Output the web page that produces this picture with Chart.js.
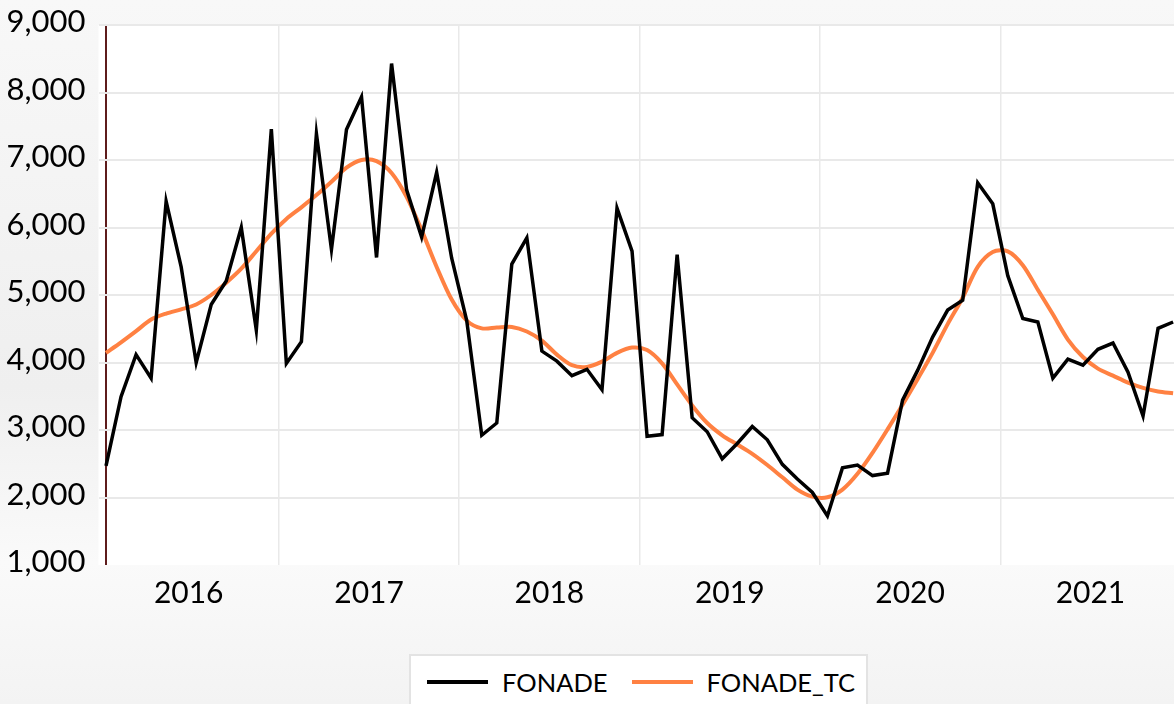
<!DOCTYPE html>
<html>
<head>
<meta charset="utf-8">
<script src="https://cdn.jsdelivr.net/npm/chart.js@4.4.0/dist/chart.umd.min.js"></script>
<style>
  html, body { margin: 0; padding: 0; background: #f5f5f5; }
  #wrap { position: relative; width: 1174px; height: 704px; overflow: hidden; }
  #legend {
    position: absolute; left: 409px; top: 654px; width: 459px; height: 60px;
    background: #fff; border: 2px solid #e3e3e3; box-sizing: border-box;
    display: flex; align-items: flex-start; padding: 0 0 0 16px;
    font-family: Lato, "Open Sans", sans-serif; font-size: 25.5px; color: #000;
  }
  .item { display: flex; align-items: center; height: 52px; margin-right: 24px; }
  .swatch { width: 61px; height: 3.5px; margin-right: 14px; }
</style>
</head>
<body>
<div id="wrap">
  <canvas id="chart" width="1174" height="704"></canvas>
  <div id="legend"></div>
</div>
<script>
// year labels (one per 12 monthly points, Jan 2016 .. Dec 2021)
const years = ['2016', '2017', '2018', '2019', '2020', '2021'];

// FONADE monthly series
const fonade = [
  2470, 3494, 4117, 3769, 6387, 5416, 3997, 4860, 5208, 6000, 4481, 7457,
  3987, 4309, 7390, 5675, 7452, 7935, 5556, 8429, 6558, 5857, 6818, 5545,
  4621, 2922, 3104, 5457, 5847, 4169, 4020, 3805, 3899, 3597, 6288, 5649,
  2906, 2932, 5597, 3182, 2974, 2574, 2800, 3052, 2855, 2491, 2273, 2075,
  1727, 2439, 2480, 2325, 2361, 3442, 3883, 4377, 4777, 4922, 6662, 6351,
  5286, 4652, 4600, 3769, 4049, 3961, 4195, 4288, 3857, 3208, 4506, 4600
];

// FONADE_TC (trend-cycle)
const fonadeTC = [
  4143, 4299, 4465, 4636, 4725, 4787, 4860, 5000, 5182, 5390, 5649, 5909,
  6127, 6299, 6480, 6678, 6886, 7000, 6984, 6808, 6454, 5961, 5416, 4932,
  4621, 4506, 4517, 4527, 4460, 4325, 4117, 3961, 3935, 4013, 4143, 4221,
  4184, 3987, 3675, 3364, 3104, 2922, 2785, 2647, 2481, 2299, 2117, 2013,
  2003, 2117, 2351, 2662, 3010, 3374, 3753, 4143, 4569, 4960, 5416, 5636,
  5647, 5442, 5078, 4714, 4340, 4081, 3909, 3805, 3701, 3623, 3571, 3545
];

const yTicks = [1000, 2000, 3000, 4000, 5000, 6000, 7000, 8000, 9000];

const GRID = '#e9e9e9';
const AXIS_LINE = '#5e1c1c';
const ORANGE = '#ff8142';
const FONT = 'Lato, "Open Sans", sans-serif';

const isCenter = v => Math.abs(((v - 5.5) % 12)) < 1e-6;

const bgPlugin = {
  id: 'bg',
  beforeDraw(chart) {
    const { ctx, chartArea: a } = chart;
    ctx.save();
    const g = ctx.createLinearGradient(0, 0, 0, chart.height);
    g.addColorStop(0, '#f8f8f8');
    g.addColorStop(0.55, '#efefef');
    g.addColorStop(0.8, '#fafafa');
    g.addColorStop(1, '#f3f3f3');
    ctx.fillStyle = g;
    ctx.fillRect(0, 0, chart.width, chart.height);
    ctx.fillStyle = '#ffffff';
    ctx.fillRect(a.left, a.top, a.right - a.left, a.bottom - a.top);
    ctx.restore();
  }
};

const ctx = document.getElementById('chart').getContext('2d');
const chart = new Chart(ctx, {
  type: 'line',
  data: {
    datasets: [
      {
        label: 'FONADE',
        data: fonade.map((v, i) => ({ x: i, y: v })),
        borderColor: '#000000',
        backgroundColor: '#000000',
        borderWidth: 3.5,
        pointRadius: 0,
        tension: 0,
        fill: false
      },
      {
        label: 'FONADE_TC',
        data: fonadeTC.map((v, i) => ({ x: i, y: v })),
        borderColor: ORANGE,
        backgroundColor: ORANGE,
        borderWidth: 4,
        pointRadius: 0,
        tension: 0.3,
        fill: false
      }
    ]
  },
  options: {
    responsive: false,
    animation: false,
    devicePixelRatio: 1,
    layout: { padding: { top: 25, right: 0, bottom: 0, left: 0 } },
    plugins: {
      legend: { display: false },
      tooltip: { enabled: false }
    },
    scales: {
      x: {
        type: 'linear',
        min: -0.5,
        max: 71.06,
        afterBuildTicks(scale) {
          const t = [{ value: 0 }];
          years.forEach((y, k) => {
            if (k > 0) t.push({ value: k * 12 - 0.5 });
            t.push({ value: k * 12 + 5.5 });
          });
          scale.ticks = t;
        },
        afterFit(scale) {
          scale.height = 704 - 565;
          scale.paddingLeft = 0;
          scale.paddingRight = 0;
        },
        border: { display: false },
        grid: {
          drawTicks: false,
          lineWidth: c => (c.tick && c.tick.value === 0 ? 2 : 1.5),
          color: c => {
            if (!c.tick) return GRID;
            if (c.tick.value === 0) return AXIS_LINE;
            return isCenter(c.tick.value) ? 'rgba(0,0,0,0)' : GRID;
          }
        },
        ticks: {
          autoSkip: false,
          maxRotation: 0,
          padding: 10,
          color: '#000',
          font: { family: FONT, size: 30 },
          callback: v => (isCenter(v) ? years[Math.round((v - 5.5) / 12)] : '')
        }
      },
      y: {
        min: yTicks[0],
        max: yTicks[yTicks.length - 1],
        afterBuildTicks(scale) { scale.ticks = yTicks.map(v => ({ value: v })); },
        afterFit(scale) {
          scale.width = 98.5;
          scale.paddingTop = 0;
          scale.paddingBottom = 0;
        },
        border: { display: false },
        grid: {
          drawTicks: false,
          lineWidth: 2,
          color: c => (c.tick && c.tick.value === yTicks[0] ? 'rgba(0,0,0,0)' : GRID)
        },
        ticks: {
          padding: 13,
          labelOffset: -3,
          color: '#000',
          font: { family: FONT, size: 31 },
          callback: v => v.toLocaleString('en-US')
        }
      }
    }
  },
  plugins: [bgPlugin]
});

// HTML legend (same colours as the datasets)
const legendEl = document.getElementById('legend');
legendEl.innerHTML = '';
chart.data.datasets.forEach(ds => {
  legendEl.innerHTML += `<div class="item"><div class="swatch" style="background:${ds.borderColor}"></div><div>${ds.label}</div></div>`;
});
</script>
</body>
</html>
